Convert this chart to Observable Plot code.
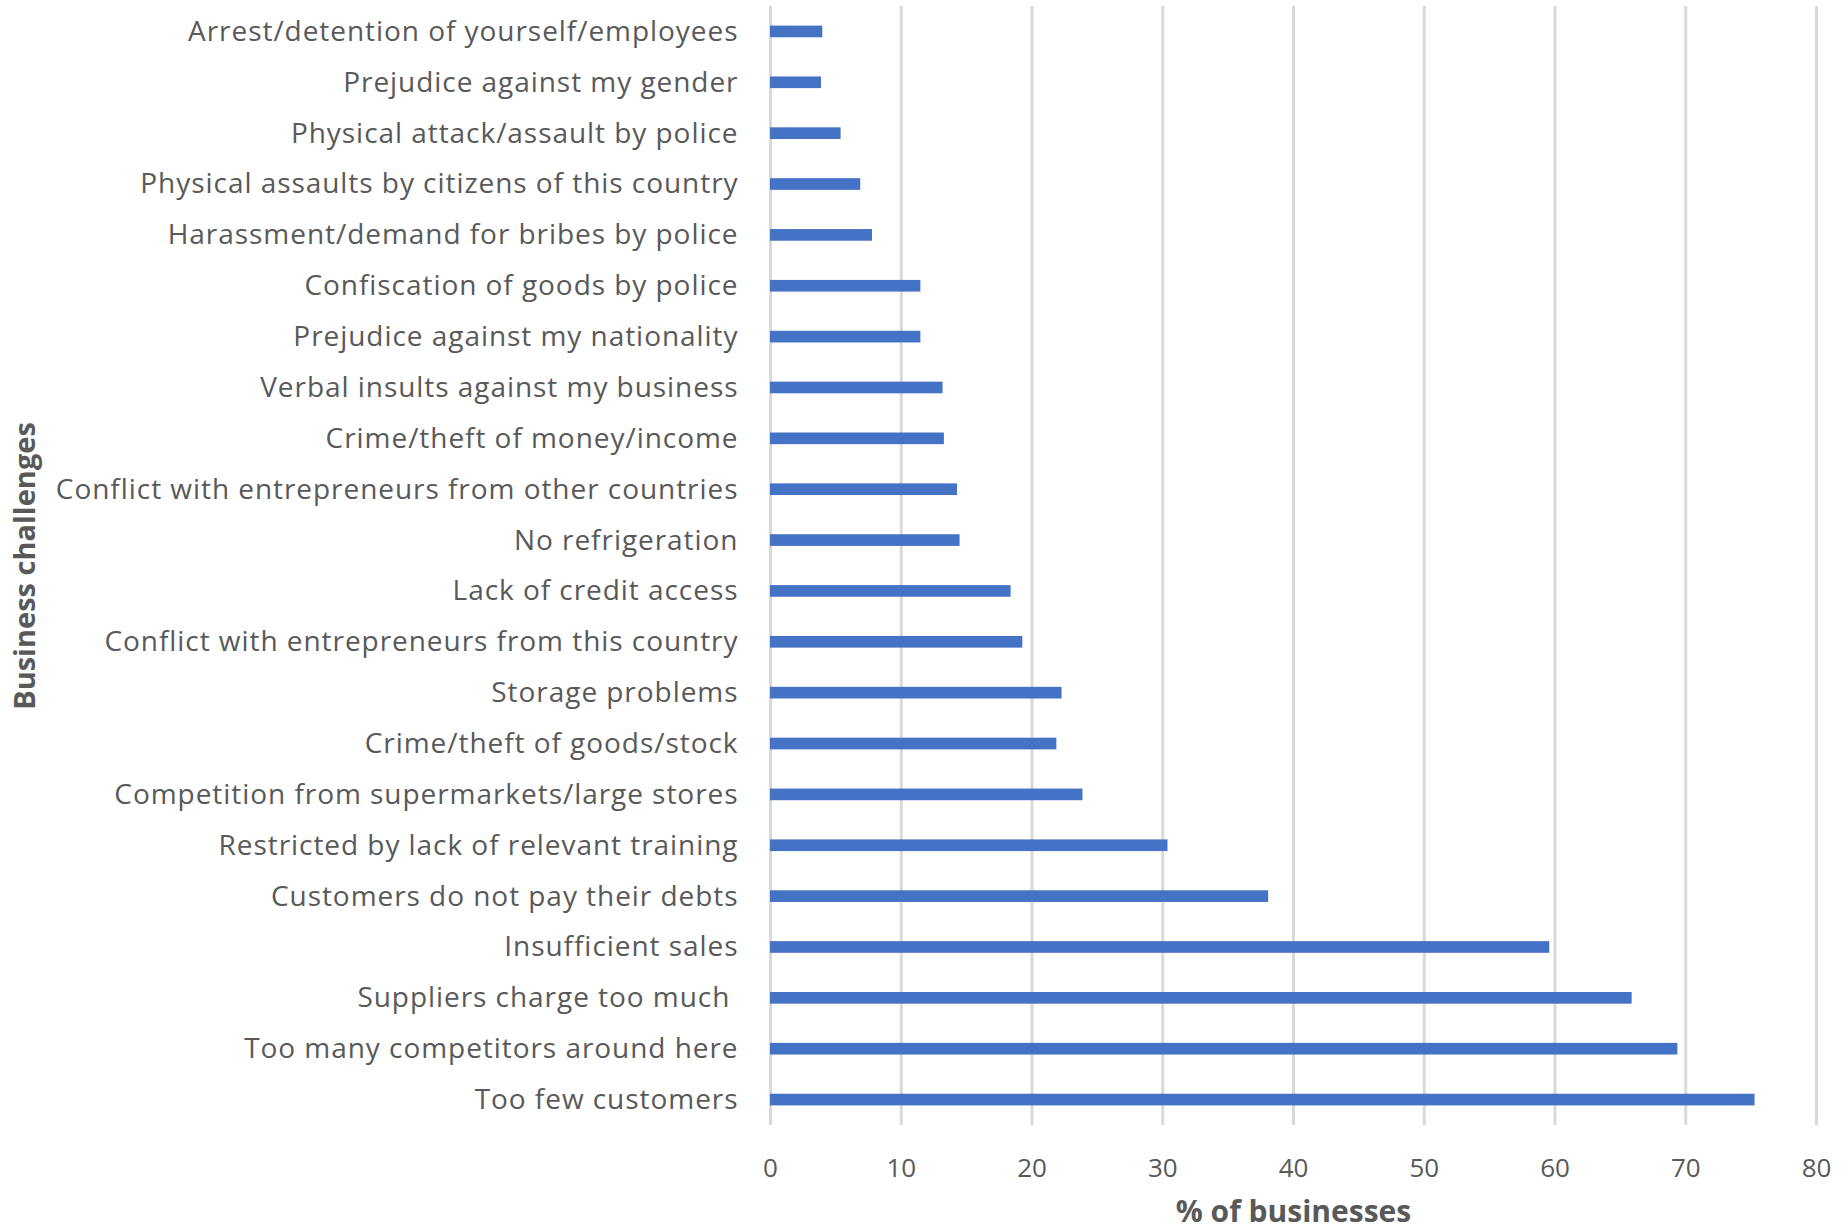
<!DOCTYPE html>
<html>
<head>
<meta charset="utf-8">
<script src="https://cdn.jsdelivr.net/npm/d3@7"></script>
<script src="https://cdn.jsdelivr.net/npm/@observablehq/plot@0.6"></script>
<style>
  html, body { margin: 0; padding: 0; background: #ffffff; }
  #chart svg text { white-space: pre; }
  #chart svg g[aria-label="y-axis tick label"] text { letter-spacing: 0.95px; }
</style>
</head>
<body>
<div id="chart"></div>
<script>
// Business challenges, listed top to bottom as drawn
const challenges = [
  "Arrest/detention of yourself/employees",
  "Prejudice against my gender",
  "Physical attack/assault by police",
  "Physical assaults by citizens of this country",
  "Harassment/demand for bribes by police",
  "Confiscation of goods by police",
  "Prejudice against my nationality",
  "Verbal insults against my business",
  "Crime/theft of money/income",
  "Conflict with entrepreneurs from other countries",
  "No refrigeration",
  "Lack of credit access",
  "Conflict with entrepreneurs from this country",
  "Storage problems",
  "Crime/theft of goods/stock",
  "Competition from supermarkets/large stores",
  "Restricted by lack of relevant training",
  "Customers do not pay their debts",
  "Insufficient sales",
  "Suppliers charge too much ",
  "Too many competitors around here",
  "Too few customers"
];

// Share of businesses reporting each challenge (%)
const shares = [
  4.0, 3.9, 5.4, 6.9, 7.8, 11.5, 11.5, 13.2, 13.3, 14.3, 14.5,
  18.4, 19.3, 22.3, 21.9, 23.9, 30.4, 38.1, 59.6, 65.9, 69.4, 75.3
];

const xTicks = [0, 10, 20, 30, 40, 50, 60, 70, 80];
const xTitle = "% of businesses";
const yTitle = "Business challenges";

const rows = challenges.map((c, i) => ({challenge: c, pct: shares[i]}));

const font = "'Open Sans', Lato, sans-serif";

const chart = Plot.plot({
  width: 1848,
  height: 1231,
  marginLeft: 770,
  marginRight: 32,
  marginTop: 6,
  marginBottom: 106,
  style: {fontFamily: font, fontSize: "26px", color: "#595959", background: "#ffffff"},
  x: {domain: [0, 80]},
  y: {domain: challenges, padding: 0, round: false},
  marks: [
    Plot.ruleX(xTicks, {stroke: "#d9d9d9", strokeWidth: 3}),
    Plot.barX(rows, {x: "pct", y: "challenge", fill: "#4472C4", insetTop: 19.6, insetBottom: 19.6}),
    Plot.axisX({ticks: xTicks, tickSize: 0, tickPadding: 33, label: null, fontSize: 26}),
    Plot.axisY({tickSize: 0, tickPadding: 32, label: null, fontSize: 28}),
    Plot.text([xTitle], {frameAnchor: "bottom", lineAnchor: "middle", dy: 87, fontWeight: "bold", fontSize: 30, fill: "#595959"}),
    Plot.text([yTitle], {frameAnchor: "left", textAnchor: "middle", lineAnchor: "middle", dx: -745, rotate: -90, fontWeight: "bold", fontSize: 29, fill: "#595959"})
  ]
});

document.getElementById("chart").appendChild(chart);
</script>
</body>
</html>
